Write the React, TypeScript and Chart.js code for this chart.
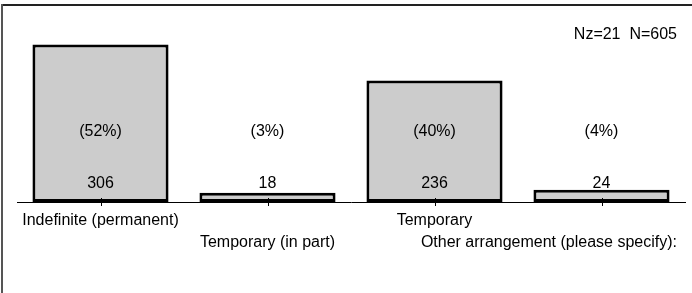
import React, { useEffect, useRef } from "react";
import { Chart, registerables } from "chart.js";

Chart.register(...registerables);

const categories = [
  "Indefinite (permanent)",
  "Temporary (in part)",
  "Temporary",
  "Other arrangement (please specify):",
];
const counts = [306, 18, 236, 24];
const percents = ["(52%)", "(3%)", "(40%)", "(4%)"];
const sampleNote = "Nz=21  N=605";
const yMax = 340;

const FONT = "16px 'Liberation Sans', Arial, sans-serif";

const overlayPlugin = {
  id: "overlay",
  beforeDraw(chart: any) {
    const ctx = chart.ctx;
    ctx.save();
    // frame lines
    ctx.strokeStyle = "#222";
    ctx.lineWidth = 2;
    ctx.beginPath();
    ctx.moveTo(1, 5);
    ctx.lineTo(chart.width, 5);
    ctx.stroke();
    ctx.strokeStyle = "#555";
    ctx.beginPath();
    ctx.moveTo(2, 4);
    ctx.lineTo(2, chart.height);
    ctx.stroke();
    ctx.restore();
  },
  afterDatasetsDraw(chart: any) {
    const ctx = chart.ctx;
    const xs = chart.scales.x;
    const ys = chart.scales.y;
    const base = ys.getPixelForValue(0);
    ctx.save();
    // tick marks
    ctx.strokeStyle = "#000";
    ctx.lineWidth = 1;
    categories.forEach((_, i) => {
      const x = Math.round(xs.getPixelForValue(i)) + 0.5;
      ctx.beginPath();
      ctx.moveTo(x, base - 4);
      ctx.lineTo(x, base + 4);
      ctx.stroke();
    });
    ctx.fillStyle = "#000";
    ctx.font = FONT;
    ctx.textBaseline = "alphabetic";
    const rightLimit = chart.width - 15;
    categories.forEach((c, i) => {
      const x = xs.getPixelForValue(i);
      ctx.textAlign = "center";
      ctx.fillText(String(counts[i]), x, base - 14);
      ctx.fillText(percents[i], x, base - 66);
      const w = ctx.measureText(c).width;
      let cx = x;
      if (cx + w / 2 > rightLimit) cx = rightLimit - w / 2;
      const row = i % 2;
      ctx.fillText(c, cx, base + 23 + row * 22);
    });
    ctx.textAlign = "right";
    ctx.fillText(sampleNote, rightLimit, 39);
    ctx.restore();
  },
};

export default function App() {
  const ref = useRef<HTMLCanvasElement>(null);
  useEffect(() => {
    document.body.style.margin = "0";
    const chart = new Chart(ref.current!, {
      type: "bar",
      data: {
        labels: categories,
        datasets: [
          {
            data: counts,
            backgroundColor: "#cccccc",
            borderColor: "#000",
            borderWidth: 3,
            borderSkipped: false,
            categoryPercentage: 1,
            barPercentage: 0.815,
          },
        ],
      },
      options: {
        animation: false,
        responsive: false,
        maintainAspectRatio: false,
        layout: { padding: { left: 17, right: 7, top: 27, bottom: 91 } },
        plugins: { legend: { display: false }, tooltip: { enabled: false } },
        scales: {
          x: {
            display: true,
            ticks: { display: false },
            grid: { display: false, drawTicks: false },
            border: { display: true, color: "#000", width: 1 },
          },
          y: { display: false, min: 0, max: yMax },
        },
      },
      plugins: [overlayPlugin],
    });
    return () => chart.destroy();
  }, []);
  return (
    <div style={{ position: "absolute", left: 0, top: 0, width: 692, height: 293 }}>
      <canvas ref={ref} width={692} height={293} />
    </div>
  );
}
